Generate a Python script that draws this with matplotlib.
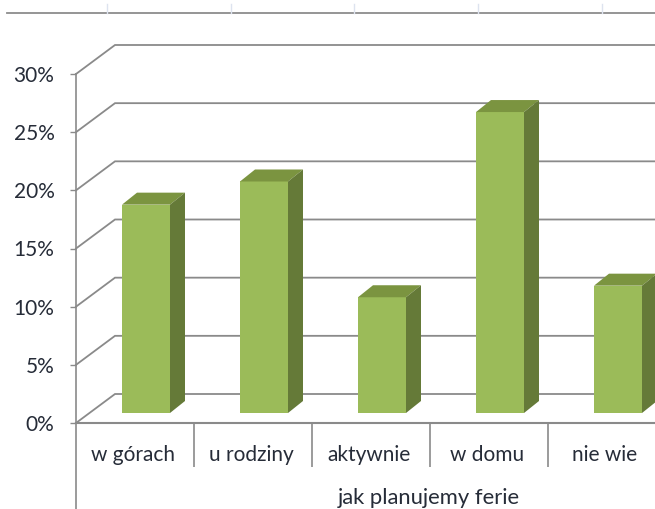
import matplotlib
matplotlib.use('Agg')
import matplotlib.pyplot as plt
from matplotlib.patches import Polygon

categories = ['w górach', 'u rodziny', 'aktywnie', 'w domu', 'nie wie']
values = [18, 20, 10, 26, 11]
y_ticks = [0, 5, 10, 15, 20, 25, 30]
y_tick_labels = ['0%', '5%', '10%', '15%', '20%', '25%', '30%']
axis_title = 'jak planujemy ferie'

plt.rcParams['font.family'] = ['Lato', 'DejaVu Sans']

W, H = 655, 509
x0, y0, y30 = 76, 423, 74   # front plane in pixels
cat_w = 118.0
y_scale = (y0 - y30) / 30.0

GRID = '#8a8a8a'
TXT = '#262c38'
FS = 15

fig = plt.figure(figsize=(W / 100, H / 100), dpi=100, facecolor='white')
ax = fig.add_axes([x0 / W, (H - y0) / H, (W - x0) / W, (y0 - y30) / H])
ax.set_xlim(0, (W - x0) / cat_w)
ax.set_ylim(0, 30)
ax.patch.set_visible(False)

def simpleaxis(ax):
    ax.spines['top'].set_visible(False)
    ax.spines['right'].set_visible(False)
    ax.spines['left'].set_color(GRID)
    ax.spines['bottom'].set_color(GRID)
    ax.spines['left'].set_linewidth(1.2)
    ax.spines['bottom'].set_linewidth(1.5)

simpleaxis(ax)

# depth of the 3d walls and of the bars, in axis units
wall_dx, wall_dy = 39 / cat_w, 29 / y_scale
bar_dx, bar_dy = 15 / cat_w, 12 / y_scale
bar_w = 48 / cat_w
bar_shift = 46 / cat_w
base = 10 / y_scale
foreshorten = 0.995   # bars sit a bit further back than the axis plane

# back wall gridlines
xmax = ax.get_xlim()[1]
for t in y_ticks:
    ax.plot([0, wall_dx, xmax], [t, t + wall_dy, t + wall_dy], color=GRID, lw=1.3,
            clip_on=False, zorder=1, solid_joinstyle='miter')

# bars
for i, v in enumerate(values):
    left = i + bar_shift
    right = left + bar_w
    h = v * foreshorten
    top = base + h
    ax.bar(left, h, width=bar_w, bottom=base, align='edge', color='#9bbb59', lw=0, zorder=3)
    ax.add_patch(Polygon([(left, top), (right, top), (right + bar_dx, top + bar_dy),
                          (left + bar_dx, top + bar_dy)],
                         closed=True, fc='#7b9440', lw=0, zorder=3, clip_on=False))
    ax.add_patch(Polygon([(right, base), (right + bar_dx, base + bar_dy),
                          (right + bar_dx, top + bar_dy), (right, top)],
                         closed=True, fc='#657a38', lw=0, zorder=3, clip_on=False))

ax.set_yticks(y_ticks)
ax.set_yticklabels(y_tick_labels, fontsize=FS, color=TXT)
ax.tick_params(axis='y', length=4.5, width=1, color=GRID, pad=11)

ax.set_xticks([i + 0.5 - 2 / cat_w for i in range(len(categories))])
ax.set_xticklabels(categories, fontsize=FS, color=TXT)
ax.tick_params(axis='x', which='major', length=0, pad=15.5)
ax.set_xticks([1, 2, 3, 4], minor=True)
ax.tick_params(axis='x', which='minor', length=32, width=1.2, color=GRID)

# lower level of the category axis
ax.plot([0, 0], [0, -(H - y0) / y_scale], color=GRID, lw=1.2, clip_on=False, zorder=2)
ax.text((429 - x0) / cat_w, -(498 - y0) / y_scale, axis_title, fontsize=FS + 0.8, color=TXT,
        ha='center', va='center')

# sheet edge above the chart
ax.plot([-(x0 - 7) / cat_w, xmax], [(y0 - 13) / y_scale] * 2, color='#8c8c8c', lw=1.3, clip_on=False)
for px in [107, 231, 354, 478, 602]:
    ax.plot([(px - x0) / cat_w] * 2, [(y0 - 13) / y_scale, (y0 - 4) / y_scale], color='#dde3ef',
            lw=1, clip_on=False)

plt.savefig('out.png', dpi=100)
